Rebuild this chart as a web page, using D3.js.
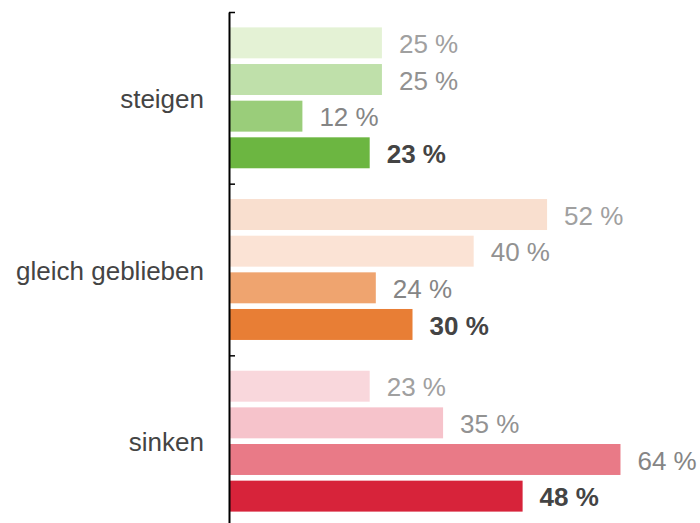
<!DOCTYPE html>
<html>
<head>
<meta charset="utf-8">
<script src="https://cdn.jsdelivr.net/npm/d3@7"></script>
<style>
  body { margin: 0; background: #fff; }
  svg { display: block; font-family: Arial, "Liberation Sans", sans-serif; }
</style>
</head>
<body>
<svg id="chart" width="700" height="523"></svg>
<script>
// categories and values (in percent)
const categories = ['steigen', 'gleich geblieben', 'sinken'];
const seriesNames = ['s1', 's2', 's3', 's4'];
const series1 = [25, 52, 23];
const series2 = [25, 40, 35];
const series3 = [12, 24, 64];
const series4 = [23, 30, 48];
const values = [series1, series2, series3, series4];

const barColors = [
  ['#e4f2d5', '#bfe0aa', '#9acd7a', '#6cb641'],
  ['#f9dfcf', '#fbe3d5', '#efa46f', '#e87e35'],
  ['#f9d7dc', '#f6c3cb', '#e97a87', '#d7233a']
];
const labelColors = ['#a0a0a0', '#929292', '#858585', '#444'];

const svg = d3.select('#chart');
const left = 229;

const y0 = d3.scaleBand()
  .domain(categories)
  .range([12, 527])
  .paddingInner(0)
  .paddingOuter(0);

const y1 = d3.scaleBand()
  .domain(seriesNames)
  .range([0, y0.bandwidth()])
  .paddingInner(0.155)
  .paddingOuter(0.42);

const x = d3.scaleLinear()
  .domain([0, 77])
  .range([left, 700]);

// rows: one per category and series
const rows = [];
categories.forEach((c, ci) => {
  seriesNames.forEach((s, si) => {
    rows.push({ cat: c, ci: ci, s: s, si: si, value: values[si][ci] });
  });
});

svg.append('g')
  .selectAll('rect')
  .data(rows)
  .enter()
  .append('rect')
  .attr('x', left)
  .attr('y', d => y0(d.cat) + y1(d.s))
  .attr('width', d => x(d.value) - left)
  .attr('height', y1.bandwidth())
  .attr('fill', d => barColors[d.ci][d.si]);

svg.append('g')
  .selectAll('text')
  .data(rows)
  .enter()
  .append('text')
  .attr('x', d => x(d.value) + 17)
  .attr('y', d => y0(d.cat) + y1(d.s) + y1.bandwidth() / 2 + 1)
  .attr('dy', '0.35em')
  .attr('font-size', 26)
  .attr('font-weight', d => (d.si === 3 ? 'bold' : 'normal'))
  .attr('fill', d => labelColors[d.si])
  .text(d => d.value + ' %');

// category labels
svg.append('g')
  .selectAll('text')
  .data(categories)
  .enter()
  .append('text')
  .attr('x', 204)
  .attr('y', d => y0(d) + y0.bandwidth() / 2 + 1)
  .attr('dy', '0.35em')
  .attr('text-anchor', 'end')
  .attr('font-size', 26)
  .attr('fill', '#444')
  .text(d => d);

// axis with ticks at the group boundaries
const yEdge = d3.scaleLinear().domain([0, 3]).range([12, 527]);
const axis = svg.append('g')
  .attr('transform', 'translate(' + left + ',0)')
  .call(d3.axisRight(yEdge).tickValues([0, 1, 2, 3]).tickSize(6).tickSizeOuter(0).tickFormat(''));
axis.select('.domain').attr('stroke', '#000').attr('stroke-width', 2);
axis.selectAll('.tick line').attr('stroke', '#000').attr('stroke-width', 1.5);
</script>
</body>
</html>
